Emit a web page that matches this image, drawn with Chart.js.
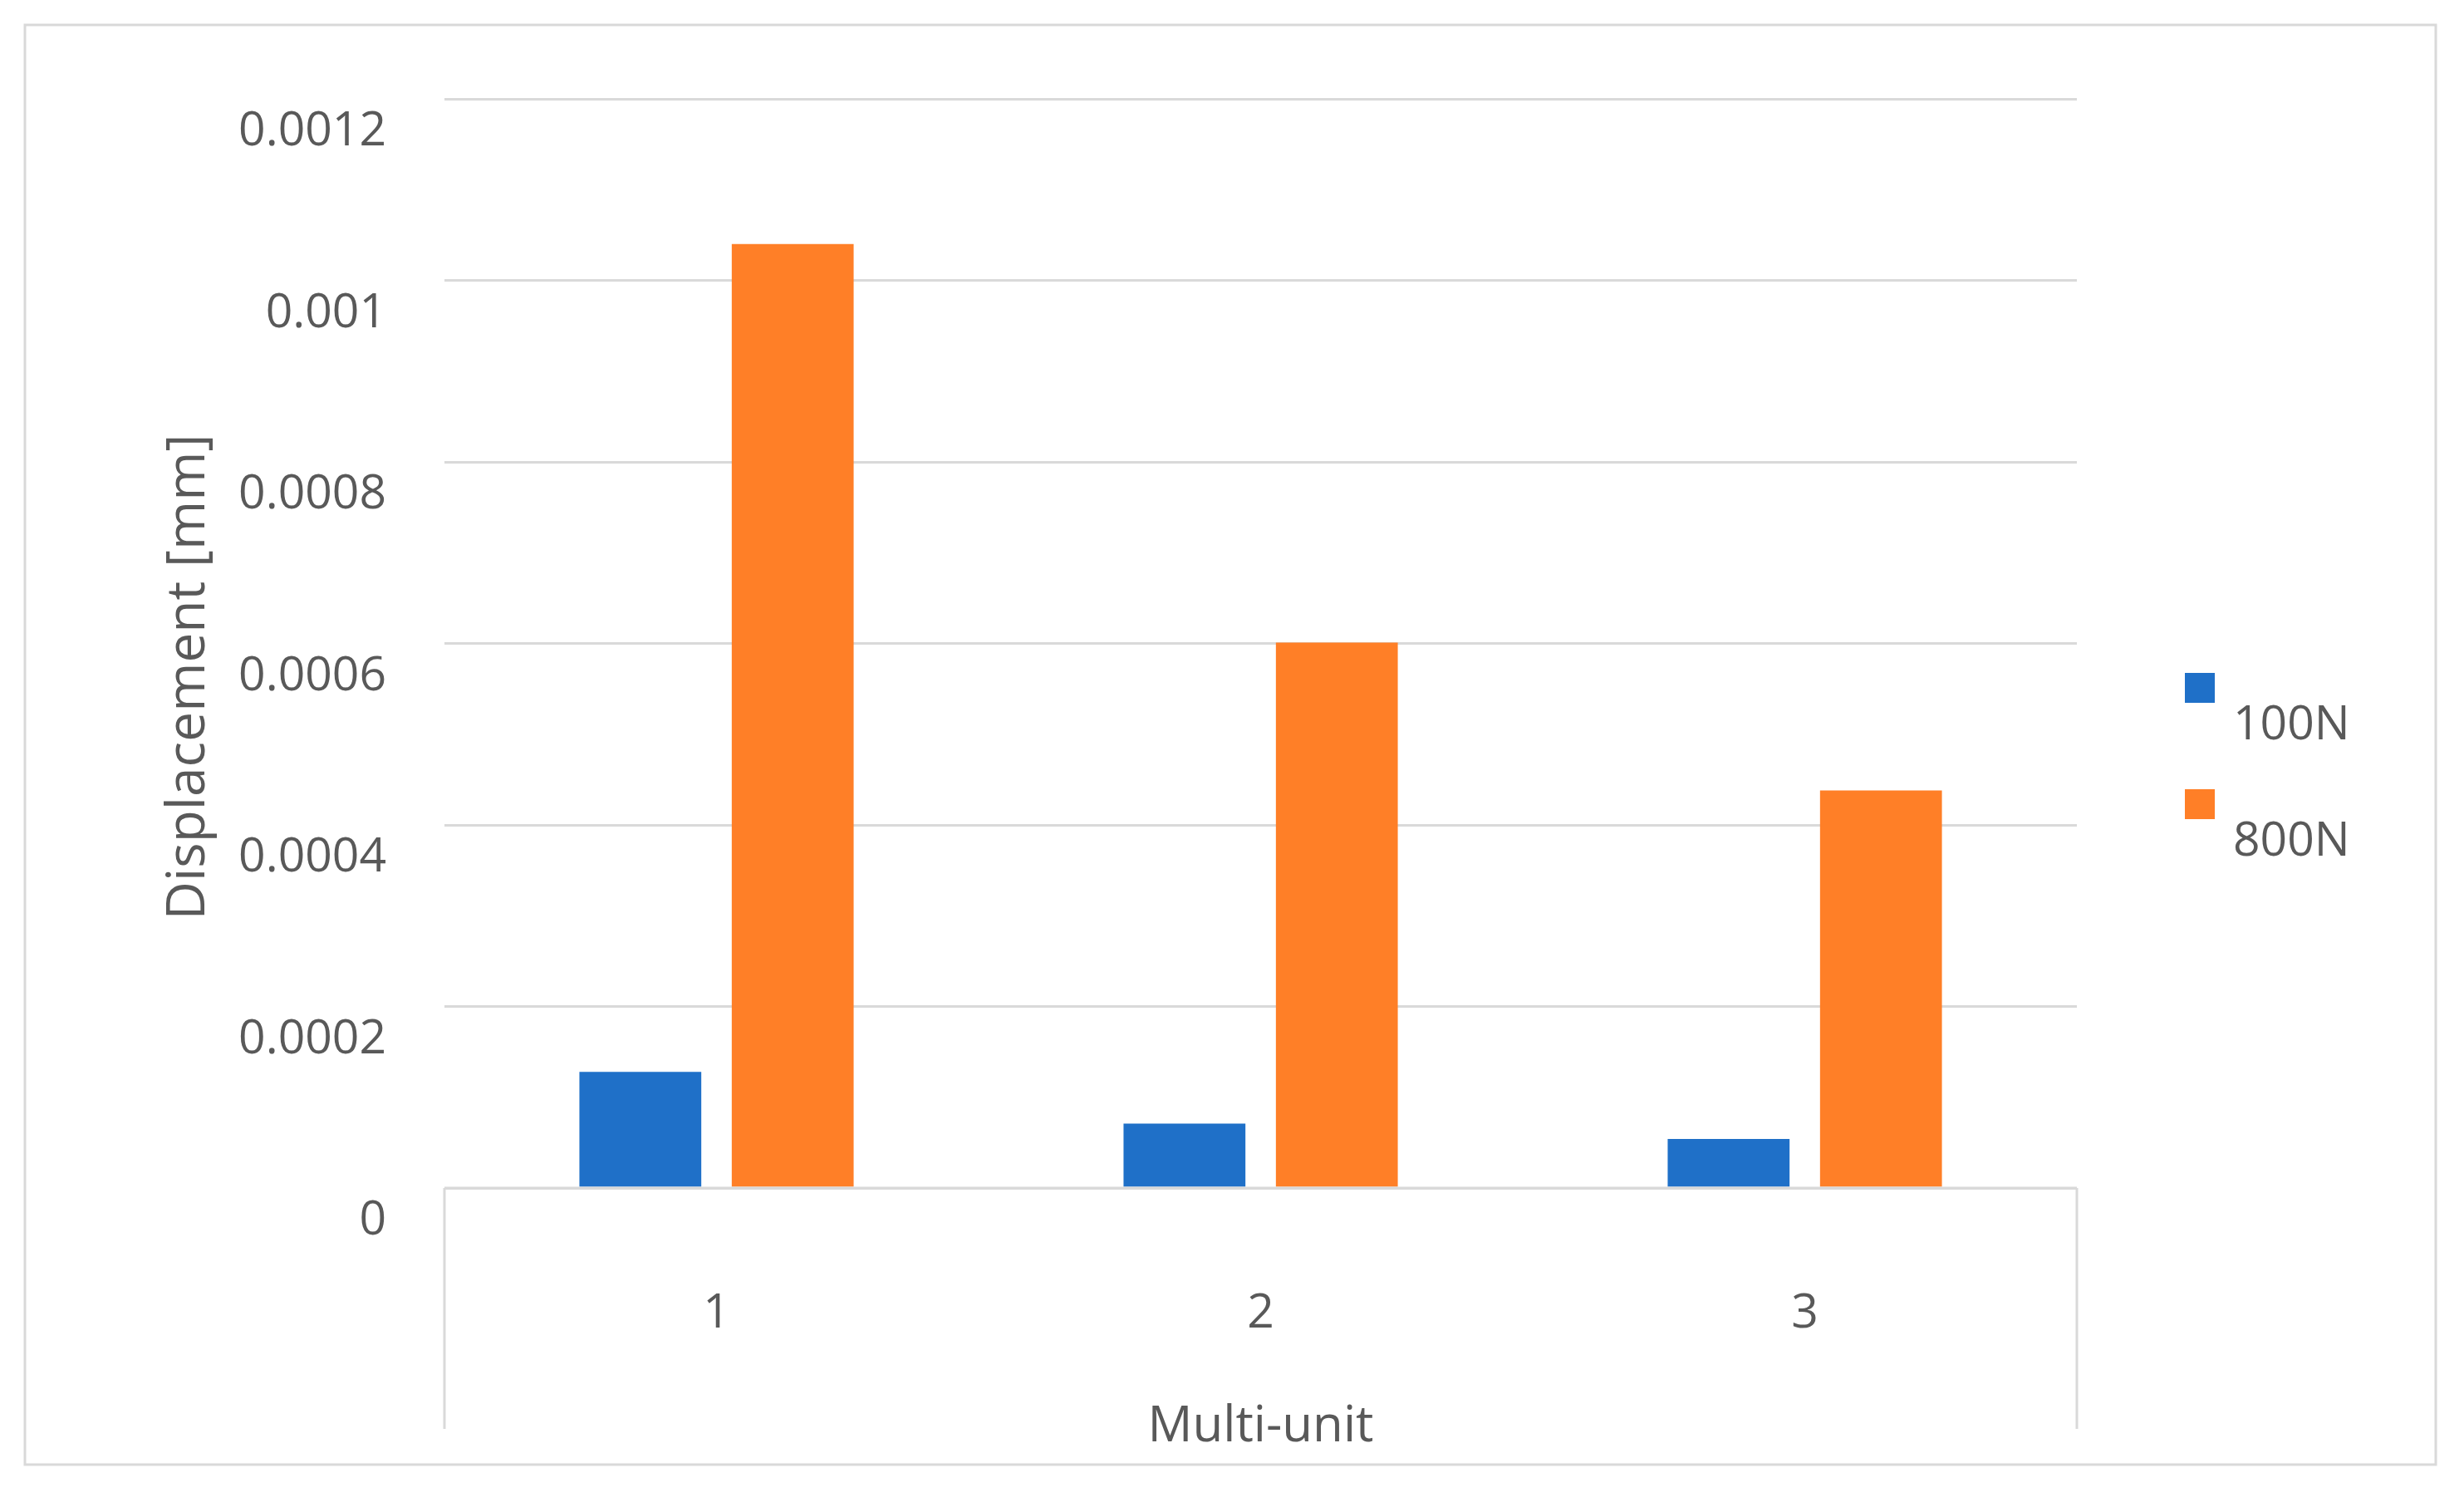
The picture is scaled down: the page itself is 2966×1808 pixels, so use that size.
<!DOCTYPE html>
<html>
<head>
<meta charset="utf-8">
<script src="https://cdn.jsdelivr.net/npm/chart.js@4"></script>
<style>
  body { margin: 0; background: #fff; }
  canvas { display: block; }
</style>
</head>
<body>
<canvas id="chart" width="2966" height="1808"></canvas>
<script>
const categories = ['1', '2', '3'];
const load100N = [0.000128, 0.000071, 0.000054];
const load800N = [0.00104, 0.000601, 0.000438];
const seriesNames = ['100N', '800N'];
const colors = ['#1f70c8', '#ff7f27'];

const FONT = 'Open Sans, Noto Sans, sans-serif';
const GREY = '#595959';

// frame, y title, legend and the Excel-style category box
const decor = {
    id: 'decor',
    beforeDraw(chart) {
        const c = chart.ctx;
        c.save();
        c.fillStyle = '#fff';
        c.fillRect(0, 0, chart.width, chart.height);
        c.strokeStyle = '#d9d9d9';
        c.lineWidth = 3;
        c.strokeRect(30, 30, 2902, 1733);
        c.restore();
    },
    afterDraw(chart) {
        const c = chart.ctx;
        const a = chart.chartArea;
        c.save();
        c.strokeStyle = '#d9d9d9';
        c.lineWidth = 3;
        c.beginPath();
        c.moveTo(a.left, a.bottom); c.lineTo(a.left, 1720);
        c.moveTo(a.right, a.bottom); c.lineTo(a.right, 1720);
        c.moveTo(a.left, a.bottom); c.lineTo(a.right, a.bottom);
        c.stroke();

        c.fillStyle = GREY;
        c.font = '64px ' + FONT;
        c.textAlign = 'center';
        c.textBaseline = 'middle';
        c.translate(228, 815);
        c.rotate(-Math.PI / 2);
        c.fillText('Displacement [mm]', 0, 0);
        c.restore();

        c.save();
        c.font = '57px ' + FONT;
        c.textBaseline = 'alphabetic';
        c.textAlign = 'left';
        const boxY = [810, 950];
        seriesNames.forEach((name, i) => {
            c.fillStyle = colors[i];
            c.fillRect(2630, boxY[i], 36, 36);
            c.fillStyle = GREY;
            c.fillText(name, 2688, boxY[i] + 80);
        });
        c.textAlign = 'center';
        c.font = '60px ' + FONT;
        c.fillText('Multi-unit', (a.left + a.right) / 2, 1735);
        c.restore();
    }
};

new Chart(document.getElementById('chart'), {
    type: 'bar',
    data: {
        labels: categories,
        datasets: [
            { label: seriesNames[0], data: load100N, backgroundColor: colors[0] },
            { label: seriesNames[1], data: load800N, backgroundColor: colors[1] }
        ]
    },
    options: {
        responsive: false,
        animation: false,
        devicePixelRatio: 1,
        layout: { padding: { left: 0, top: 119, right: 466, bottom: 0 } },
        datasets: { bar: { categoryPercentage: 0.56, barPercentage: 0.8 } },
        plugins: { legend: { display: false }, tooltip: { enabled: false } },
        scales: {
            x: {
                grid: { display: false },
                border: { display: false },
                ticks: { color: GREY, font: { size: 57, family: FONT }, padding: 110 },
                afterFit(s) { s.height = 1808 - 119 - 1311; }
            },
            y: {
                min: 0,
                max: 0.0012,
                border: { display: false },
                grid: { color: '#d9d9d9', lineWidth: 3, drawTicks: false },
                ticks: {
                    stepSize: 0.0002,
                    color: GREY,
                    font: { size: 57, family: FONT },
                    padding: 70,
                    labelOffset: 40,
                    callback: v => String(+v.toFixed(4))
                },
                afterFit(s) { s.width = 535; }
            }
        }
    },
    plugins: [decor]
});
</script>
</body>
</html>
